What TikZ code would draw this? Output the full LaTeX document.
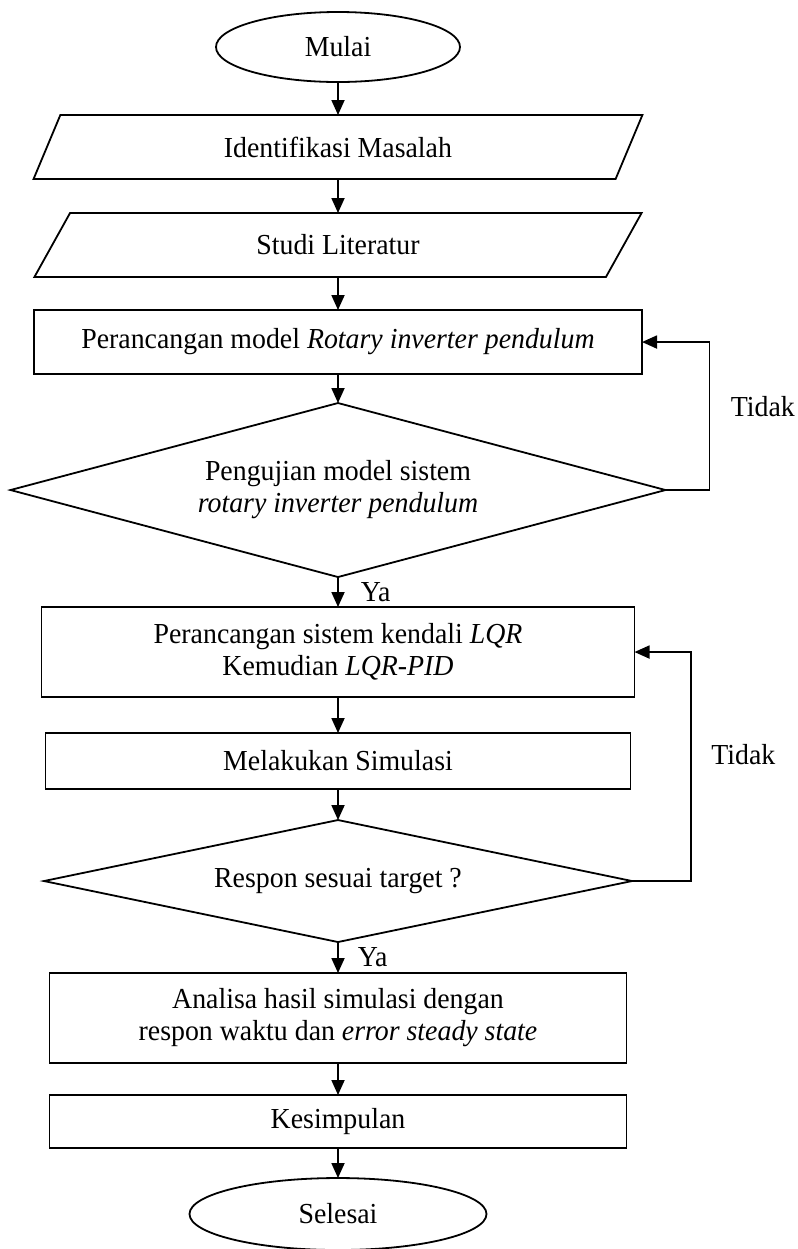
\documentclass[tikz,border=0pt]{standalone}
\usepackage{fontspec}
\setmainfont{Liberation Serif}[FakeStretch=0.96]
\usepackage{tikz}
\usetikzlibrary{positioning,arrows.meta,calc,shapes.geometric}

\begin{document}
\begin{tikzpicture}[
  x=0.5pt,y=-0.5pt,
  font=\fontsize{14.5}{16}\selectfont,
  >={Triangle[length=7.5pt,width=6.5pt]},
  % --- shared look of the flow chart ---
  base/.style    ={draw=black,line width=0.9pt,align=center,inner sep=0pt,
                   outer sep=0pt,text=black},
  terminal/.style={base,ellipse},
  inputb/.style  ={base,trapezium,trapezium left angle=62,trapezium right angle=118,
                   trapezium stretches=true,minimum width=304.5pt,minimum height=32pt},
  procb/.style   ={base,rectangle},
  test/.style    ={base,diamond},
  flow/.style    ={->,line width=0.9pt,draw=black},
  back/.style    ={->,line width=0.9pt,draw=black},
  edgelbl/.style ={inner sep=0pt,text=black},
]
\useasboundingbox (0,0) rectangle (798,1249);

% ============================ main column ============================
\node[terminal,minimum width=122pt,minimum height=35pt] (mulai) at (338,47) {Mulai};
\node[inputb,below=16.5pt of mulai] (ident) {Identifikasi Masalah};
\node[inputb,below=17pt of ident] (studi) {Studi Literatur};
\node[procb,below=16.5pt of studi,minimum width=304pt,minimum height=32pt] (model)
  {Perancangan model \textit{Rotary inverter pendulum}};
\node[test,aspect=3.76,below=14.5pt of model,minimum width=327.5pt,minimum height=87pt] (ujimodel)
  {Pengujian model sistem\\ \textit{rotary inverter pendulum}};
\node[procb,below=15pt of ujimodel,minimum width=296.5pt,minimum height=45pt] (kendali)
  {Perancangan sistem kendali \textit{LQR}\\ Kemudian \textit{LQR-PID}};
\node[procb,below=18pt of kendali,minimum width=292.5pt,minimum height=28pt] (simulasi)
  {Melakukan Simulasi};
\node[test,aspect=4.8,below=15.5pt of simulasi,minimum width=294pt,minimum height=61pt] (respon)
  {Respon sesuai target ?};
\node[procb,below=15.5pt of respon,minimum width=288.5pt,minimum height=45pt] (analisa)
  {Analisa hasil simulasi dengan\\ respon waktu dan \textit{error steady state}};
\node[procb,below=16pt of analisa,minimum width=288.5pt,minimum height=26.5pt] (simpul)
  {Kesimpulan};
\node[terminal,below=15pt of simpul,minimum width=148.5pt,minimum height=36pt] (selesai)
  {Selesai};

% ============================ forward flow ============================
\draw[flow] (mulai)    -- (ident);
\draw[flow] (ident)    -- (studi);
\draw[flow] (studi)    -- (model);
\draw[flow] (model)    -- (ujimodel);
\draw[flow] (ujimodel) -- node[edgelbl,anchor=west,xshift=11pt]{Ya} (kendali);
\draw[flow] (kendali)  -- (simulasi);
\draw[flow] (simulasi) -- (respon);
\draw[flow] (respon)   -- node[edgelbl,anchor=west,xshift=9.5pt]{Ya} (analisa);
\draw[flow] (analisa)  -- (simpul);
\draw[flow] (simpul)   -- (selesai);

% ============================ feedback loops ============================
\coordinate (fb1) at ($(ujimodel.east)+(22pt,0)$);
\draw[back] (ujimodel.east) -- (fb1) |- (model.east);
\node[edgelbl,anchor=west] at ($(fb1)!0.5!(fb1 |- model.east)+(10.5pt,4.5pt)$) {Tidak};

\coordinate (fb2) at ($(respon.east)+(29.5pt,0)$);
\draw[back] (respon.east) -- (fb2) |- (kendali.east);
\node[edgelbl,anchor=west] at ($(fb2)!0.5!(fb2 |- kendali.east)+(10pt,6pt)$) {Tidak};

\end{tikzpicture}
\end{document}
